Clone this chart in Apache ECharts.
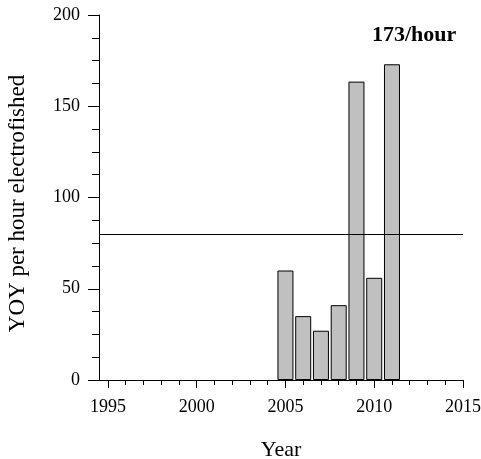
<!DOCTYPE html>
<html>
<head>
<meta charset="utf-8">
<script src="https://cdn.jsdelivr.net/npm/echarts@6/dist/echarts.min.js"></script>
<style>html,body{margin:0;padding:0;background:#fff;}#c{width:481px;height:459px;}</style>
</head>
<body>
<div id="c"></div>
<script>
var years = [2005, 2006, 2007, 2008, 2009, 2010, 2011];
var yoyPerHour = [60, 35, 27, 41, 163.5, 56, 173];
var targetLine = 80;
var xMajorTicks = [1995, 2000, 2005, 2010, 2015];
var xMinorTicks = [1995,1996,1997,1998,1999,2000,2001,2002,2003,2004,2005,2006,2007,2008,2009,2010,2011,2012,2013,2014,2015];
var annotation = '173/hour';

var FONT = '"Liberation Serif", "Times New Roman", serif';
var chart = echarts.init(document.getElementById('c'), null, {renderer: 'canvas'});
var barData = years.map(function (y, i) { return [y, yoyPerHour[i]]; });

chart.setOption({
  animation: false,
  backgroundColor: '#fff',
  grid: {left: 99, right: 18, top: 15, bottom: 79, containLabel: false, outerBoundsMode: 'none'},
  xAxis: [{
    type: 'value', min: 1994.5, max: 2015, position: 'bottom',
    name: 'Year', nameLocation: 'middle', nameGap: 59,
    nameTextStyle: {fontFamily: FONT, fontSize: 22, color: '#000'},
    axisLine: {show: true, lineStyle: {color: '#000', width: 1}},
    axisTick: {show: true, customValues: xMinorTicks, length: 5, lineStyle: {color: '#000'}},
    axisLabel: {customValues: xMajorTicks, margin: 18, fontFamily: FONT, fontSize: 18, color: '#000',
      formatter: function (v) { return String(Math.round(v)); }},
    splitLine: {show: false}
  }, {
    type: 'value', min: 1994.5, max: 2015, position: 'bottom',
    axisLine: {show: false},
    axisTick: {show: true, customValues: xMajorTicks, length: 8, lineStyle: {color: '#000'}},
    axisLabel: {show: false},
    splitLine: {show: false}
  }],
  yAxis: {
    type: 'value', min: 0, max: 200, interval: 50,
    name: 'YOY per hour electrofished', nameLocation: 'middle', nameGap: 70, nameRotate: 90,
    nameTextStyle: {fontFamily: FONT, fontSize: 23, color: '#000', padding: [0, 12, 0, 0]},
    axisLine: {show: true, lineStyle: {color: '#000', width: 1}},
    axisTick: {show: true, length: 11, lineStyle: {color: '#000'}},
    minorTick: {show: true, splitNumber: 4, length: 7, lineStyle: {color: '#000'}},
    axisLabel: {margin: 19, fontFamily: FONT, fontSize: 18, color: '#000'},
    splitLine: {show: false}
  },
  series: [{
    type: 'bar', xAxisIndex: 0, data: barData, barWidth: 16,
    itemStyle: {color: '#c0c0c0', borderColor: '#000', borderWidth: 1},
    markLine: {
      silent: true, symbol: 'none', label: {show: false},
      lineStyle: {color: '#000', width: 1, type: 'solid'},
      data: [{yAxis: targetLine}]
    }
  }],
  graphic: [{
    type: 'text', left: 372, top: 24,
    style: {text: annotation, font: 'bold 22px ' + FONT, fill: '#000'}
  }]
});
</script>
</body>
</html>
